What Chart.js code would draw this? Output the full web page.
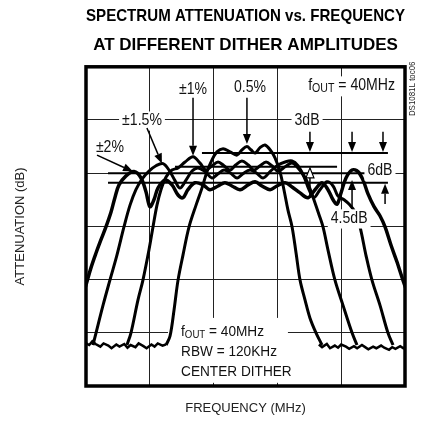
<!DOCTYPE html>
<html>
<head>
<meta charset="utf-8">
<script src="https://cdn.jsdelivr.net/npm/chart.js@4.4.1/dist/chart.umd.min.js"></script>
<style>
  html, body { margin: 0; padding: 0; background: #fff; }
</style>
</head>
<body>
<canvas id="myChart" width="435" height="446"></canvas>
<script>
const SANS = '"Liberation Sans", Arial, sans-serif';
const SQ = 0.88; // horizontal squeeze, stands in for a condensed face

const titleLines = ['SPECTRUM ATTENUATION vs. FREQUENCY', 'AT DIFFERENT DITHER AMPLITUDES'];
const xTitle = 'FREQUENCY (MHz)';
const yTitle = 'ATTENUATION (dB)';
const xTicks = [39.0, 39.4, 39.8, 40.2, 40.6, 41.0];
const yTicks = [-60, -50, -40, -30, -20, -10, 0];

// 0.5% dither
const freq05 = [39.502,39.527,39.552,39.577,39.608,39.646,39.690,39.727,39.759,39.790,39.821,39.859,39.903,39.947,39.978,40.009,40.034,40.060,40.091,40.122,40.154,40.185,40.216,40.241,40.266,40.292,40.317,40.342,40.373,40.404,40.442,40.480];
const att05  = [-52.3,-50.6,-45.7,-40.1,-35.4,-30.1,-26.0,-22.8,-19.7,-17.5,-16.0,-15.4,-16.0,-16.6,-15.6,-15.0,-15.6,-16.2,-15.2,-14.7,-15.6,-17.1,-19.7,-23.1,-26.9,-30.1,-35.0,-40.1,-43.8,-47.2,-50.0,-52.3];

// +-1% dither
const freq10 = [39.257,39.282,39.326,39.357,39.395,39.420,39.445,39.470,39.502,39.539,39.577,39.621,39.671,39.715,39.752,39.790,39.828,39.865,39.903,39.940,39.978,40.016,40.053,40.091,40.129,40.166,40.204,40.248,40.292,40.329,40.367,40.398,40.429,40.461,40.486,40.517,40.561,40.611,40.668,40.699];
const att10  = [-52.3,-50.0,-43.8,-40.1,-34.4,-30.1,-26.0,-23.1,-20.7,-19.4,-19.0,-17.9,-16.9,-18.1,-19.4,-18.6,-17.9,-18.6,-19.4,-18.4,-17.7,-18.4,-19.4,-18.6,-17.9,-18.6,-19.6,-18.8,-18.1,-19.0,-20.5,-22.4,-25.0,-27.8,-30.1,-34.4,-40.1,-44.8,-50.0,-52.3];

// +-1.5% dither
const freq15 = [39.044,39.063,39.107,39.150,39.194,39.238,39.276,39.313,39.351,39.395,39.439,39.483,39.520,39.558,39.589,39.627,39.665,39.702,39.746,39.790,39.828,39.865,39.903,39.947,39.984,40.028,40.066,40.110,40.154,40.197,40.248,40.292,40.329,40.367,40.398,40.429,40.467,40.511,40.549,40.580,40.618,40.655,40.687,40.718,40.755,40.793,40.843,40.893,40.925];
const att15  = [-52.3,-50.0,-44.8,-40.1,-35.4,-30.1,-26.0,-23.1,-21.1,-19.6,-18.6,-18.2,-19.4,-21.4,-22.8,-21.3,-19.6,-19.0,-19.7,-20.9,-20.1,-19.4,-19.9,-20.9,-20.1,-19.4,-19.9,-20.9,-19.7,-18.6,-17.9,-17.7,-18.6,-20.7,-23.1,-24.6,-23.1,-21.6,-22.4,-24.3,-25.0,-26.0,-27.3,-30.1,-35.4,-40.1,-44.8,-50.0,-52.3];

// +-2% dither
const freq20 = [38.962,39.000,39.031,39.063,39.094,39.125,39.157,39.182,39.207,39.251,39.301,39.345,39.376,39.401,39.426,39.451,39.495,39.539,39.577,39.608,39.639,39.683,39.734,39.777,39.828,39.871,39.915,39.966,40.016,40.060,40.103,40.154,40.197,40.248,40.292,40.342,40.392,40.436,40.480,40.517,40.549,40.574,40.599,40.630,40.668,40.705,40.737,40.768,40.806,40.843,40.875,40.912,40.950,40.987,41.031];
const att20  = [-44.8,-41.0,-37.8,-35.0,-32.5,-30.1,-27.3,-24.5,-22.2,-20.5,-19.7,-20.9,-23.5,-26.3,-25.0,-22.8,-21.3,-22.2,-24.1,-24.6,-23.1,-21.8,-22.2,-23.1,-22.4,-21.8,-22.4,-23.1,-22.2,-21.6,-22.4,-23.1,-22.4,-21.8,-22.6,-23.7,-24.6,-23.1,-21.8,-23.1,-25.0,-25.8,-23.7,-20.9,-19.4,-19.7,-21.3,-23.9,-26.3,-28.0,-30.1,-33.5,-36.7,-40.1,-43.8];

// noise floor, left and right of the carrier
const freqFloorL = [38.99,39.02,39.04,39.06,39.09,39.11,39.14,39.16,39.19,39.21,39.24,39.26,39.28,39.31,39.33,39.36,39.38,39.41,39.43,39.45,39.48,39.50];
const attFloorL  = [-51.8,-52.3,-51.6,-52.1,-52.6,-52.0,-52.4,-52.9,-52.2,-52.6,-52.1,-52.8,-52.3,-52.7,-52.0,-52.5,-52.9,-52.2,-52.6,-52.0,-52.4,-52.2];
const freqFloorR = [40.46,40.48,40.51,40.53,40.56,40.58,40.60,40.63,40.65,40.68,40.70,40.73,40.75,40.77,40.80,40.82,40.85,40.87,40.90,40.92,40.94,40.97,40.99,41.01];
const attFloorR  = [-52.2,-52.7,-52.1,-52.9,-52.4,-52.8,-52.2,-52.6,-53.0,-52.5,-52.9,-52.3,-52.7,-53.1,-52.6,-52.9,-52.4,-52.8,-53.2,-52.7,-53.0,-52.5,-52.9,-52.6];

const pts = (xs, ys) => xs.map((x, i) => ({ x: x, y: ys[i] }));

function curve(label, xs, ys, width, tension) {
  return {
    label: label,
    data: pts(xs, ys),
    borderColor: '#000',
    borderWidth: width,
    pointRadius: 0,
    tension: tension,
    fill: false
  };
}

// ---- drawing helpers for the notes ----
function textW(ctx, txt, size) {
  ctx.font = size + 'px ' + SANS;
  return ctx.measureText(txt).width * SQ;
}

// narrow text, left edge at x, vertical middle at y
function narrowText(ctx, txt, x, y, size) {
  ctx.save();
  ctx.font = size + 'px ' + SANS;
  ctx.fillStyle = '#111';
  ctx.textAlign = 'left';
  ctx.textBaseline = 'middle';
  ctx.translate(x, y);
  ctx.scale(SQ, 1);
  ctx.fillText(txt, 0, 0);
  ctx.restore();
}

function boxText(ctx, txt, cx, cy, size) {
  const w = textW(ctx, txt, size);
  ctx.fillStyle = '#fff';
  ctx.fillRect(cx - w / 2 - 3, cy - size * 0.6, w + 6, size * 1.2);
  narrowText(ctx, txt, cx - w / 2, cy, size);
}

function fout(ctx, x0, cy, size, centered, rest) {
  const small = Math.round(size * 0.72);
  const wf = textW(ctx, 'f', size);
  const wo = textW(ctx, 'OUT', small);
  const wr = textW(ctx, rest, size);
  const total = wf + wo + wr;
  const left = centered ? x0 - total / 2 : x0;
  if (centered) {
    ctx.fillStyle = '#fff';
    ctx.fillRect(left - 3, cy - size * 0.6, total + 6, size * 1.25);
  }
  narrowText(ctx, 'f', left, cy, size);
  narrowText(ctx, 'OUT', left + wf, cy + size * 0.2, small);
  narrowText(ctx, rest, left + wf + wo, cy, size);
}

function arrow(ctx, x1, y1, x2, y2, hollow) {
  const a = Math.atan2(y2 - y1, x2 - x1);
  const len = 10, half = 4;
  const bx = x2 - len * Math.cos(a), by = y2 - len * Math.sin(a);
  ctx.strokeStyle = '#000';
  ctx.lineWidth = 1.5;
  ctx.beginPath();
  ctx.moveTo(x1, y1);
  ctx.lineTo(bx, by);
  ctx.stroke();
  ctx.beginPath();
  ctx.moveTo(x2, y2);
  ctx.lineTo(bx + half * Math.sin(a), by - half * Math.cos(a));
  ctx.lineTo(bx - half * Math.sin(a), by + half * Math.cos(a));
  ctx.closePath();
  if (hollow) {
    ctx.fillStyle = '#fff';
    ctx.fill();
    ctx.lineWidth = 1.2;
    ctx.stroke();
  } else {
    ctx.fillStyle = '#000';
    ctx.fill();
  }
}

const notes = {
  id: 'notes',
  beforeDatasetsDraw(chart) {
    const { ctx, scales: { x, y } } = chart;
    const X = v => x.getPixelForValue(v), Y = v => y.getPixelForValue(v);
    ctx.save();
    // white patch under the test conditions
    ctx.fillStyle = '#fff';
    ctx.fillRect(X(39.514), Y(-47.2), X(40.266) - X(39.514), Y(-59.4) - Y(-47.2));
    fout(ctx, X(39.596), Y(-49.8), 15.5, false, ' = 40MHz');
    narrowText(ctx, 'RBW = 120KHz', X(39.596), Y(-53.6), 15.5);
    narrowText(ctx, 'CENTER DITHER', X(39.596), Y(-57.4), 15.5);
    ctx.restore();
  },
  afterDatasetsDraw(chart) {
    const { ctx, chartArea: ca, scales: { x, y } } = chart;
    const X = v => x.getPixelForValue(v), Y = v => y.getPixelForValue(v);
    ctx.save();
    ctx.beginPath();
    ctx.rect(ca.left, ca.top, ca.width, ca.height);
    ctx.clip();

    // level reference lines
    ctx.strokeStyle = '#000';
    ctx.lineWidth = 2;
    [[39.727, 40.893, -16.2], [39.558, 40.574, -18.8], [39.138, 40.780, -20.0], [39.138, 40.893, -21.8]]
      .forEach(([a, b, v]) => {
        ctx.beginPath();
        ctx.moveTo(X(a), Y(v));
        ctx.lineTo(X(b), Y(v));
        ctx.stroke();
      });

    // labels
    boxText(ctx, '\u00b11.5%', X(39.351), Y(-10.2), 16);
    boxText(ctx, '3dB', X(40.386), Y(-10.2), 16);
    boxText(ctx, '6dB', X(40.843), Y(-19.6), 16);
    boxText(ctx, '4.5dB', X(40.650), Y(-28.6), 16);
    boxText(ctx, '\u00b12%', X(39.150), Y(-15.2), 16);
    boxText(ctx, '\u00b11%', X(39.671), Y(-4.3), 16);
    boxText(ctx, '0.5%', X(40.028), Y(-3.9), 16);
    fout(ctx, X(40.665), Y(-3.6), 16, true, ' = 40MHz');

    // pointers from the dither labels
    arrow(ctx, X(39.069), Y(-16.6), X(39.295), Y(-19.7));
    arrow(ctx, X(39.382), Y(-11.5), X(39.476), Y(-18.2));
    arrow(ctx, X(39.671), Y(-5.8), X(39.671), Y(-16.7));
    arrow(ctx, X(40.009), Y(-5.8), X(40.009), Y(-14.5));

    // 3dB markers
    [40.404, 40.668, 40.862].forEach(f => arrow(ctx, X(f), Y(-12.2), X(f), Y(-16.0)));
    // 6dB / 4.5dB markers
    arrow(ctx, X(40.404), Y(-24.5), X(40.404), Y(-19.0), true);
    arrow(ctx, X(40.668), Y(-26.3), X(40.668), Y(-21.3));
    arrow(ctx, X(40.875), Y(-25.8), X(40.875), Y(-22.0));
    ctx.restore();

    // heavy frame
    ctx.save();
    ctx.strokeStyle = '#000';
    ctx.lineWidth = 3.5;
    ctx.strokeRect(ca.left, ca.top, ca.width, ca.height);
    ctx.restore();
  },
  afterDraw(chart) {
    const { ctx, chartArea: ca } = chart;
    ctx.save();
    ctx.translate(ca.right + 8, ca.top + 22);
    ctx.rotate(-Math.PI / 2);
    ctx.scale(SQ, 1);
    ctx.font = '9px ' + SANS;
    ctx.fillStyle = '#222';
    ctx.textAlign = 'center';
    ctx.textBaseline = 'middle';
    ctx.fillText('DS1081L toc06', 0, 0);
    ctx.restore();
  }
};

const ctx = document.getElementById('myChart').getContext('2d');
const chart = new Chart(ctx, {
  type: 'line',
  data: {
    datasets: [
      curve('0.5%', freq05, att05, 3, 0.35),
      curve('\u00b11%', freq10, att10, 3, 0.35),
      curve('\u00b11.5%', freq15, att15, 3, 0.35),
      curve('\u00b12%', freq20, att20, 3.5, 0.35),
      curve('floor L', freqFloorL, attFloorL, 2.5, 0),
      curve('floor R', freqFloorR, attFloorR, 2.5, 0)
    ]
  },
  options: {
    responsive: false,
    animation: false,
    layout: { padding: { left: 3, right: 30, top: 0, bottom: 10 } },
    plugins: {
      legend: { display: false },
      tooltip: { enabled: false },
      title: {
        display: true,
        fullSize: false,
        text: titleLines,
        color: '#000',
        font: { family: SANS, size: 17, weight: 'bold', lineHeight: 1.7 },
        padding: { top: 2, bottom: 7 }
      }
    },
    scales: {
      x: {
        type: 'linear',
        min: 39,
        max: 41,
        afterBuildTicks: s => { s.ticks = xTicks.map(v => ({ value: v })); },
        ticks: { display: false },
        grid: { color: '#222', lineWidth: 1, drawTicks: false },
        border: { display: false },
        title: {
          display: true,
          text: xTitle,
          color: '#222',
          font: { family: SANS, size: 13 },
          padding: { top: 14.4, bottom: 20 }
        }
      },
      y: {
        type: 'linear',
        min: -60,
        max: 0,
        afterBuildTicks: s => { s.ticks = yTicks.map(v => ({ value: v })); },
        ticks: { display: false },
        grid: { color: '#222', lineWidth: 1, drawTicks: false },
        border: { display: false },
        title: {
          display: true,
          text: yTitle,
          color: '#222',
          font: { family: SANS, size: 13 },
          padding: { top: 9.2, bottom: 58.2 }
        }
      }
    }
  },
  plugins: [notes]
});
</script>
</body>
</html>
